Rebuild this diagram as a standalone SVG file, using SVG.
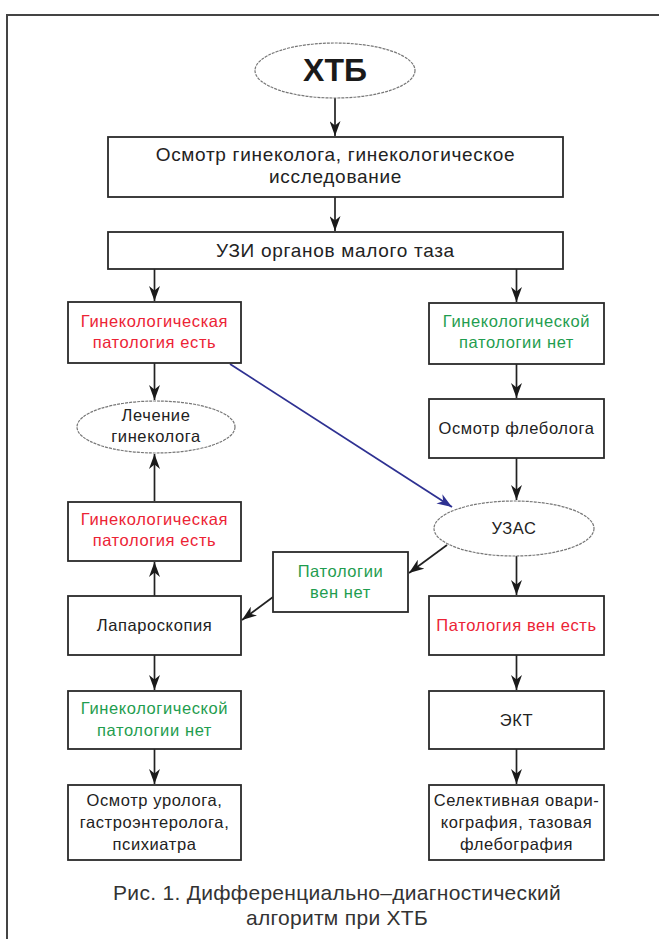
<svg xmlns="http://www.w3.org/2000/svg" width="659" height="939" viewBox="0 0 659 939">
<style>
  .box { fill: #fff; stroke: #2a2a2a; stroke-width: 1.8; }
  .ell { fill: #fff; stroke: #777; stroke-width: 1.2; stroke-dasharray: 3 1; }
  .t { font-family: "Liberation Sans", Arial, sans-serif; font-size: 16.5px; text-anchor: middle; fill: #222; letter-spacing: 0.6px; }
  .tb { font-size: 19px; letter-spacing: 0.7px; }
  .red { fill: #ec2335; }
  .green { fill: #1f9d4f; }
  .cap { font-family: "Liberation Sans", Arial, sans-serif; font-size: 21px; letter-spacing: 0.3px; text-anchor: middle; fill: #333; }
  .ln { stroke: #222; stroke-width: 1.7; fill: none; marker-end: url(#ah); }
  .bl { stroke: #2e3192; stroke-width: 1.8; fill: none; marker-end: url(#ahb); }
</style>
<defs>
  <marker id="ah" viewBox="0 0 15 11" refX="15" refY="5.5" markerWidth="15" markerHeight="11" markerUnits="userSpaceOnUse" orient="auto">
    <path d="M0,0 L15,5.5 L0,11 L4.5,5.5 z" fill="#1a1a1a"/>
  </marker>
  <marker id="ahb" viewBox="0 0 15 11" refX="15" refY="5.5" markerWidth="15" markerHeight="11" markerUnits="userSpaceOnUse" orient="auto">
    <path d="M0,0 L15,5.5 L0,11 L4.5,5.5 z" fill="#2e3192"/>
  </marker>
</defs>
<rect x="0" y="0" width="659" height="939" fill="#fff"/>
<path d="M7,939 L7,15 L659,15" fill="none" stroke="#444" stroke-width="2"/>

<g id="connectors">
  <line class="ln" x1="335" y1="98" x2="335" y2="136"/>
  <line class="ln" x1="335" y1="197" x2="335" y2="231"/>
  <line class="ln" x1="154.5" y1="269" x2="154.5" y2="301"/>
  <line class="ln" x1="516.5" y1="269" x2="516.5" y2="302"/>
  <line class="ln" x1="154.5" y1="363" x2="154.5" y2="400"/>
  <line class="ln" x1="516.5" y1="364" x2="516.5" y2="398"/>
  <line class="ln" x1="516.5" y1="458" x2="516.5" y2="500"/>
  <line class="bl" x1="230" y1="364" x2="452" y2="507"/>
  <line class="ln" x1="154.5" y1="501" x2="154.5" y2="454"/>
  <line class="ln" x1="154.5" y1="596" x2="154.5" y2="562"/>
  <line class="ln" x1="447" y1="545" x2="409" y2="573"/>
  <line class="ln" x1="273" y1="597" x2="242" y2="620"/>
  <line class="ln" x1="516.5" y1="556" x2="516.5" y2="595"/>
  <line class="ln" x1="154.5" y1="655" x2="154.5" y2="690"/>
  <line class="ln" x1="516.5" y1="655" x2="516.5" y2="690"/>
  <line class="ln" x1="154.5" y1="749" x2="154.5" y2="784"/>
  <line class="ln" x1="516.5" y1="749" x2="516.5" y2="784"/>
</g>

<g id="n-htb">
  <ellipse class="ell" cx="335" cy="70.5" rx="80" ry="27.5"/>
  <text x="335" y="81" font-family="Liberation Sans, Arial, sans-serif" font-size="32" font-weight="bold" text-anchor="middle" fill="#1a1a1a">ХТБ</text>
</g>
<g id="n-osmotr-gin">
  <rect class="box" x="108" y="137" width="455" height="60"/>
  <text class="t tb" x="335.5" y="161">Осмотр гинеколога, гинекологическое</text>
  <text class="t tb" x="335.5" y="183">исследование</text>
</g>
<g id="n-uzi">
  <rect class="box" x="108" y="232" width="455" height="37"/>
  <text class="t tb" x="335.5" y="257">УЗИ органов малого таза</text>
</g>
<g id="n-gin-est-1">
  <rect class="box" x="68" y="302" width="173" height="61"/>
  <text class="t red" x="154.5" y="327">Гинекологическая</text>
  <text class="t red" x="154.5" y="348">патология есть</text>
</g>
<g id="n-gin-net-1">
  <rect class="box" x="429" y="303" width="175" height="61"/>
  <text class="t green" x="516.5" y="327">Гинекологической</text>
  <text class="t green" x="516.5" y="348">патологии нет</text>
</g>
<g id="n-lechenie">
  <ellipse class="ell" cx="156" cy="427" rx="79" ry="26"/>
  <text class="t" x="156" y="421">Лечение</text>
  <text class="t" x="156" y="442">гинеколога</text>
</g>
<g id="n-fleb">
  <rect class="box" x="429" y="399" width="175" height="59"/>
  <text class="t" x="516.5" y="434">Осмотр флеболога</text>
</g>
<g id="n-uzas">
  <ellipse class="ell" cx="514" cy="528.5" rx="80" ry="27.5"/>
  <text class="t" x="514" y="534">УЗАС</text>
</g>
<g id="n-gin-est-2">
  <rect class="box" x="68" y="502" width="173" height="59"/>
  <text class="t red" x="154.5" y="525">Гинекологическая</text>
  <text class="t red" x="154.5" y="546">патология есть</text>
</g>
<g id="n-pvn">
  <rect class="box" x="273" y="552" width="135" height="60"/>
  <text class="t green" x="340.5" y="577">Патологии</text>
  <text class="t green" x="340.5" y="598">вен нет</text>
</g>
<g id="n-lap">
  <rect class="box" x="68" y="596" width="173" height="59"/>
  <text class="t" x="154.5" y="631">Лапароскопия</text>
</g>
<g id="n-pve">
  <rect class="box" x="429" y="596" width="175" height="59"/>
  <text class="t red" x="516.5" y="631">Патология вен есть</text>
</g>
<g id="n-gin-net-2">
  <rect class="box" x="68" y="691" width="173" height="58"/>
  <text class="t green" x="154.5" y="714">Гинекологической</text>
  <text class="t green" x="154.5" y="736">патологии нет</text>
</g>
<g id="n-ekt">
  <rect class="box" x="429" y="691" width="175" height="58"/>
  <text class="t" x="516.5" y="726">ЭКТ</text>
</g>
<g id="n-urolog">
  <rect class="box" x="68" y="785" width="173" height="75"/>
  <text class="t" x="154.5" y="806">Осмотр уролога,</text>
  <text class="t" x="154.5" y="828">гастроэнтеролога,</text>
  <text class="t" x="154.5" y="850">психиатра</text>
</g>
<g id="n-selekt">
  <rect class="box" x="429" y="785" width="175" height="75"/>
  <text class="t" x="516.5" y="806">Селективная овари-</text>
  <text class="t" x="516.5" y="828">кография, тазовая</text>
  <text class="t" x="516.5" y="850">флебография</text>
</g>
<g id="caption">
  <text class="cap" x="337" y="900">Рис. 1. Дифференциально–диагностический</text>
  <text class="cap" x="337" y="925">алгоритм при ХТБ</text>
</g>
</svg>
